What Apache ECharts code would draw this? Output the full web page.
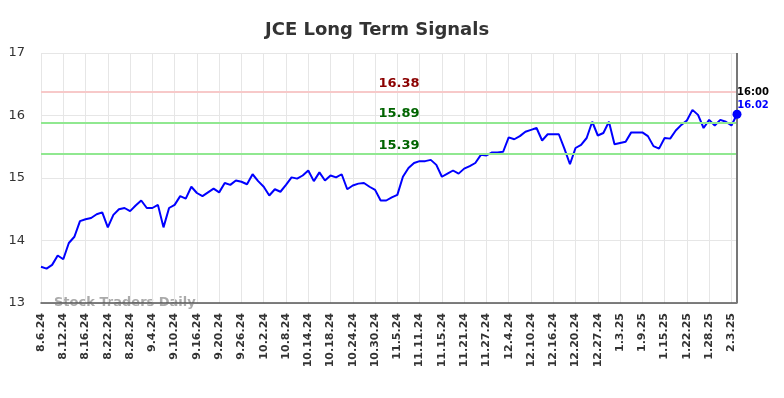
<!DOCTYPE html>
<html>
<head>
<meta charset="utf-8">
<script src="https://cdn.jsdelivr.net/npm/echarts@6/dist/echarts.min.js"></script>
<style>
  html, body { margin: 0; padding: 0; background: #fff; }
  #chart { width: 784px; height: 398px; }
</style>
</head>
<body>
<div id="chart"></div>
<script>
// trading days, 8.6.24 .. 2.4.25
let dates = [
  '8.6.24', '8.7.24', '8.8.24', '8.9.24', '8.12.24', '8.13.24', '8.14.24', '8.15.24', '8.16.24', '8.19.24',
  '8.20.24', '8.21.24', '8.22.24', '8.23.24', '8.26.24', '8.27.24', '8.28.24', '8.29.24', '8.30.24',
  '9.3.24', '9.4.24', '9.5.24', '9.6.24', '9.9.24', '9.10.24', '9.11.24', '9.12.24', '9.13.24', '9.16.24',
  '9.17.24', '9.18.24', '9.19.24', '9.20.24', '9.23.24', '9.24.24', '9.25.24', '9.26.24', '9.27.24', '9.30.24',
  '10.1.24', '10.2.24', '10.3.24', '10.4.24', '10.7.24', '10.8.24', '10.9.24', '10.10.24', '10.11.24', '10.14.24',
  '10.15.24', '10.16.24', '10.17.24', '10.18.24', '10.21.24', '10.22.24', '10.23.24', '10.24.24', '10.25.24',
  '10.28.24', '10.29.24', '10.30.24', '10.31.24',
  '11.1.24', '11.4.24', '11.5.24', '11.6.24', '11.7.24', '11.8.24', '11.11.24', '11.12.24', '11.13.24', '11.14.24',
  '11.15.24', '11.18.24', '11.19.24', '11.20.24', '11.21.24', '11.22.24', '11.25.24', '11.26.24', '11.27.24', '11.29.24',
  '12.2.24', '12.3.24', '12.4.24', '12.5.24', '12.6.24', '12.9.24', '12.10.24', '12.11.24', '12.12.24', '12.13.24',
  '12.16.24', '12.17.24', '12.18.24', '12.19.24', '12.20.24', '12.23.24', '12.24.24', '12.26.24', '12.27.24',
  '12.30.24', '12.31.24',
  '1.2.25', '1.3.25', '1.6.25', '1.7.25', '1.8.25', '1.9.25', '1.10.25', '1.13.25', '1.14.25', '1.15.25',
  '1.16.25', '1.17.25', '1.21.25', '1.22.25', '1.23.25', '1.24.25', '1.27.25', '1.28.25', '1.29.25', '1.30.25', '1.31.25',
  '2.3.25', '2.4.25'
];

let prices = [
  13.58, 13.55, 13.61, 13.76, 13.70, 13.96, 14.06, 14.31, 14.34, 14.36,
  14.42, 14.45, 14.21, 14.41, 14.50, 14.52, 14.47, 14.56, 14.64, 14.52,
  14.52, 14.57, 14.21, 14.52, 14.57, 14.71, 14.67, 14.86, 14.76, 14.71,
  14.77, 14.83, 14.77, 14.92, 14.89, 14.96, 14.94, 14.90, 15.06, 14.95,
  14.86, 14.72, 14.82, 14.78, 14.89, 15.01, 14.99, 15.04, 15.12, 14.95,
  15.09, 14.96, 15.04, 15.01, 15.06, 14.82, 14.88, 14.91, 14.92, 14.86,
  14.81, 14.64, 14.64, 14.69, 14.73, 15.02, 15.16, 15.24, 15.27, 15.27,
  15.29, 15.21, 15.02, 15.07, 15.12, 15.07, 15.15, 15.19, 15.24, 15.37,
  15.36, 15.41, 15.41, 15.42, 15.65, 15.62, 15.67, 15.74, 15.77, 15.80,
  15.60, 15.70, 15.70, 15.70, 15.47, 15.22, 15.48, 15.53, 15.64, 15.90,
  15.68, 15.72, 15.90, 15.54, 15.56, 15.58, 15.73, 15.73, 15.73, 15.67,
  15.51, 15.47, 15.64, 15.63, 15.76, 15.85, 15.92, 16.09, 16.01, 15.80,
  15.93, 15.84, 15.93, 15.90, 15.84, 16.02
];

let signalLevels = [16.38, 15.89, 15.39];
let signalColors = ['#f7c9c9', '#90e890', '#90e890'];
let signalTextColors = ['#8b0000', '#006400', '#006400'];
let yTicks = [13, 14, 15, 16, 17];
let lastTime = '16:00';

let chart = echarts.init(document.getElementById('chart'));

let lastIdx = prices.length - 1;

let signalLines = signalLevels.map((v, i) => {
  return {
    yAxis: v,
    lineStyle: { color: signalColors[i], width: 2, type: 'solid' },
    label: {
      show: true,
      position: 'insideMiddleTop',
      formatter: v.toFixed(2),
      color: signalTextColors[i],
      fontWeight: 'bold',
      fontSize: 13,
      offset: [10, 3]
    }
  };
});

let options = {
  animation: false,
  textStyle: { fontFamily: 'DejaVu Sans' },
  title: {
    text: 'JCE Long Term Signals',
    left: 260,
    top: 16,
    textStyle: { fontSize: 18, fontWeight: 'bold', color: '#333', fontFamily: 'DejaVu Sans' }
  },
  grid: { left: 41, right: 47, top: 53, bottom: 95 },
  xAxis: {
    type: 'category',
    data: dates,
    boundaryGap: false,
    axisLine: { show: true, lineStyle: { color: '#555', width: 1.5 } },
    axisTick: { show: false },
    axisLabel: {
      interval: 3,
      rotate: 90,
      margin: 10,
      fontSize: 11,
      fontWeight: 'bold',
      color: '#333'
    },
    splitLine: { show: true, interval: 3, lineStyle: { color: '#e6e6e6', width: 1 } }
  },
  yAxis: {
    type: 'value',
    min: yTicks[0],
    max: yTicks[yTicks.length - 1],
    interval: 1,
    axisLine: { show: false },
    axisTick: { show: false },
    axisLabel: { fontSize: 13, color: '#333', margin: 16 },
    splitLine: { lineStyle: { color: '#e6e6e6', width: 1 } }
  },
  graphic: [{
    type: 'text',
    left: 54,
    top: 296,
    style: { text: 'Stock Traders Daily', fill: '#aaa', font: 'bold 13px "DejaVu Sans"' }
  }],
  series: [{
    type: 'line',
    data: prices,
    showSymbol: false,
    symbol: 'none',
    lineStyle: { color: '#0000ff', width: 2 },
    z: 3,
    markLine: {
      silent: true,
      symbol: 'none',
      data: signalLines.concat([{
        xAxis: lastIdx,
        lineStyle: { color: '#777', width: 2, type: 'solid' },
        label: { show: false }
      }])
    },
    markPoint: {
      silent: true,
      data: [{
        coord: [lastIdx, prices[lastIdx]],
        symbol: 'circle',
        symbolSize: 9,
        itemStyle: { color: '#0000ff' },
        label: {
          show: true,
          position: 'top',
          offset: [16, 7],
          formatter: '{t|' + lastTime + '}\n{v|' + prices[lastIdx].toFixed(2) + '}',
          rich: {
            t: { color: '#000', fontWeight: 'bold', fontSize: 10, lineHeight: 13 },
            v: { color: '#0000ff', fontWeight: 'bold', fontSize: 10, lineHeight: 13 }
          }
        }
      }]
    }
  }]
};

chart.setOption(options);
</script>
</body>
</html>
